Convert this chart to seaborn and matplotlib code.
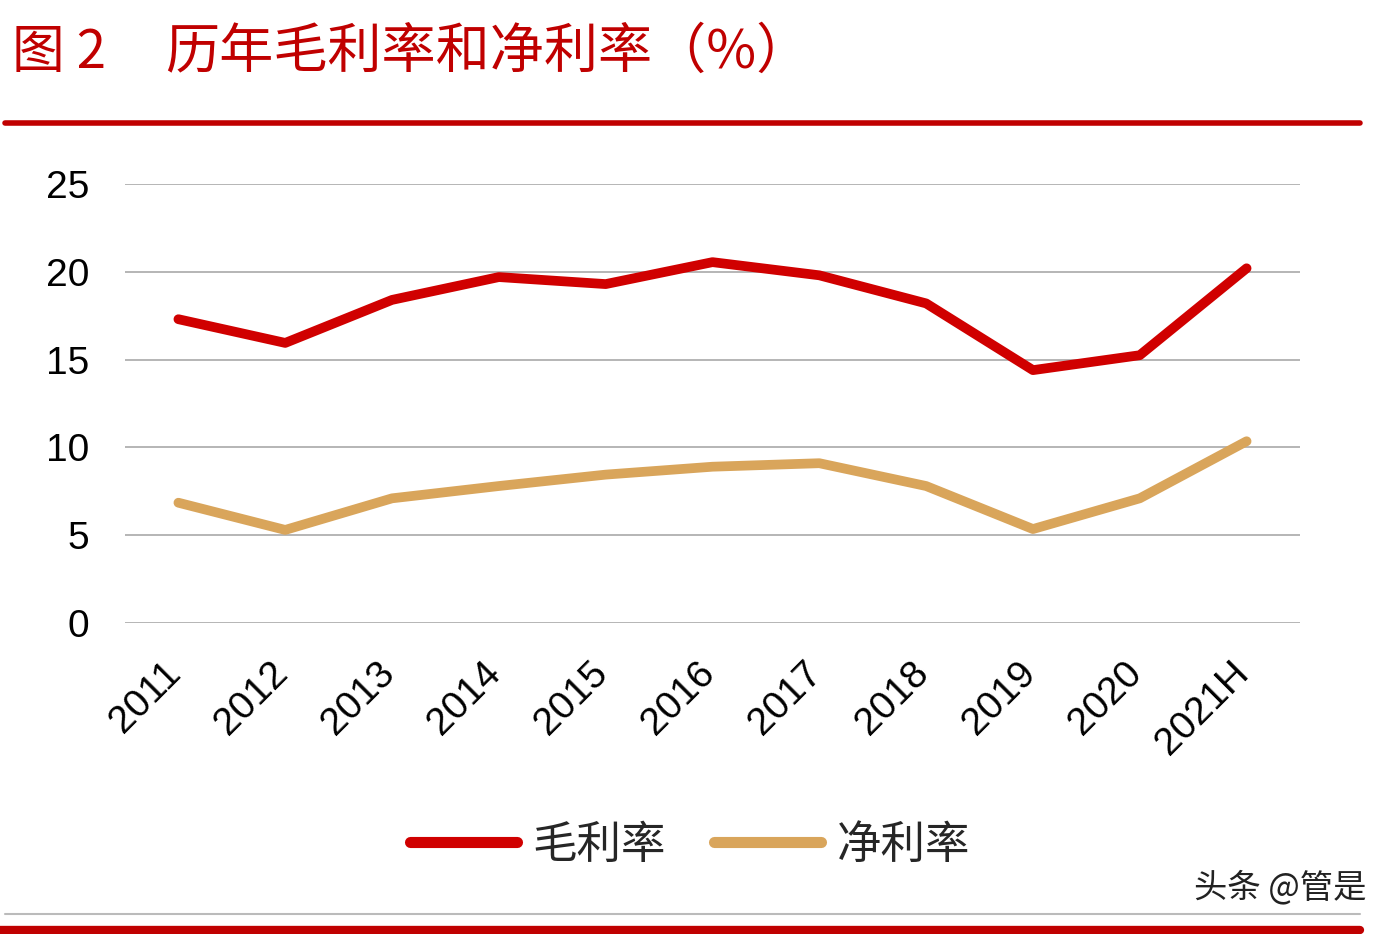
import numpy as np
import pandas as pd
import seaborn as sns
import matplotlib.pyplot as plt
import matplotlib.transforms as mtransforms
from matplotlib.lines import Line2D

# -------------------------------
# data
# -------------------------------
years = ["2011", "2012", "2013", "2014", "2015", "2016",
         "2017", "2018", "2019", "2020", "2021H"]
gross_margin = [17.3, 15.95, 18.4, 19.7, 19.3, 20.55, 19.8, 18.2, 14.4, 15.25, 20.2]
net_margin = [6.85, 5.3, 7.1, 7.8, 8.45, 8.9, 9.1, 7.8, 5.35, 7.1, 10.35]
series_names = ["毛利率", "净利率"]
colors = ["#D00000", "#D9A55B"]

df = pd.DataFrame({"year": years, series_names[0]: gross_margin, series_names[1]: net_margin})
long_df = df.melt(id_vars="year", var_name="series", value_name="value")

sns.set_theme(style="white")
plt.rcParams['font.family'] = ['Noto Sans CJK SC', 'DejaVu Sans']
num_font = ['Liberation Sans', 'DejaVu Sans']

fig = plt.figure(figsize=(13.96, 9.34), dpi=100)
ax = fig.add_axes([125 / 1396, 1 - 623 / 934, 1175 / 1396, (623 - 184) / 934])

sns.lineplot(data=long_df, x="year", y="value", hue="series",
             palette=dict(zip(series_names, colors)), linewidth=7,
             sort=False, legend=False, ax=ax, solid_capstyle="round")

ax.set_xlim(-0.5, len(years) - 0.5)
ax.set_ylim(0, 25)
ax.set_yticks([0, 5, 10, 15, 20, 25])
ax.yaxis.grid(True, color="#B0B0B0", linewidth=1.3)
ax.set_axisbelow(True)
for s in ax.spines.values():
    s.set_visible(False)
ax.set_xlabel("")
ax.set_ylabel("")
ax.tick_params(axis="y", labelsize=28, pad=26, length=0, colors="#000000")
ax.tick_params(axis="x", labelsize=28, length=0, pad=23, colors="#000000")
for lab in ax.get_yticklabels():
    lab.set_family(num_font)
shift = mtransforms.ScaledTranslation(-16 / 100, 0, fig.dpi_scale_trans)
for lab in ax.get_xticklabels():
    lab.set_family(num_font)
    lab.set_rotation(45)
    lab.set_ha("right")
    lab.set_va("top")
    lab.set_rotation_mode("anchor")
    lab.set_transform(lab.get_transform() + shift)

# legend
handles = [Line2D([0], [0], color=c, linewidth=8, solid_capstyle="round") for c in colors]
fig.legend(handles, series_names, loc="center", bbox_to_anchor=(690 / 1396, 1 - 845 / 934),
           ncol=2, frameon=False, fontsize=32, handlelength=2.4, columnspacing=1.08,
           handletextpad=0.36)

# title and frame bars
fig.text(12 / 1396, 1 - 52 / 934, "图 2", color="#C00000",
         fontsize=38, va="center", ha="left")
fig.text(165 / 1396, 1 - 52 / 934, "历年毛利率和净利率（%）", color="#C00000",
         fontsize=39, va="center", ha="left")
fig.add_artist(Line2D([5 / 1396, 1360 / 1396], [1 - 123 / 934] * 2, color="#C00000",
                      linewidth=4, transform=fig.transFigure))
fig.add_artist(Line2D([5 / 1396, 1360 / 1396], [1 - 914 / 934] * 2, color="#BBBBBB",
                      linewidth=1.5, transform=fig.transFigure))
fig.add_artist(Line2D([0, 1360 / 1396], [1 - 930 / 934] * 2, color="#C00000",
                      linewidth=6, transform=fig.transFigure))
fig.text(1366 / 1396, 1 - 888 / 934, "头条 @管是", color="#222222",
         fontsize=24, va="center", ha="right")

fig.savefig("out.png", dpi=100)
